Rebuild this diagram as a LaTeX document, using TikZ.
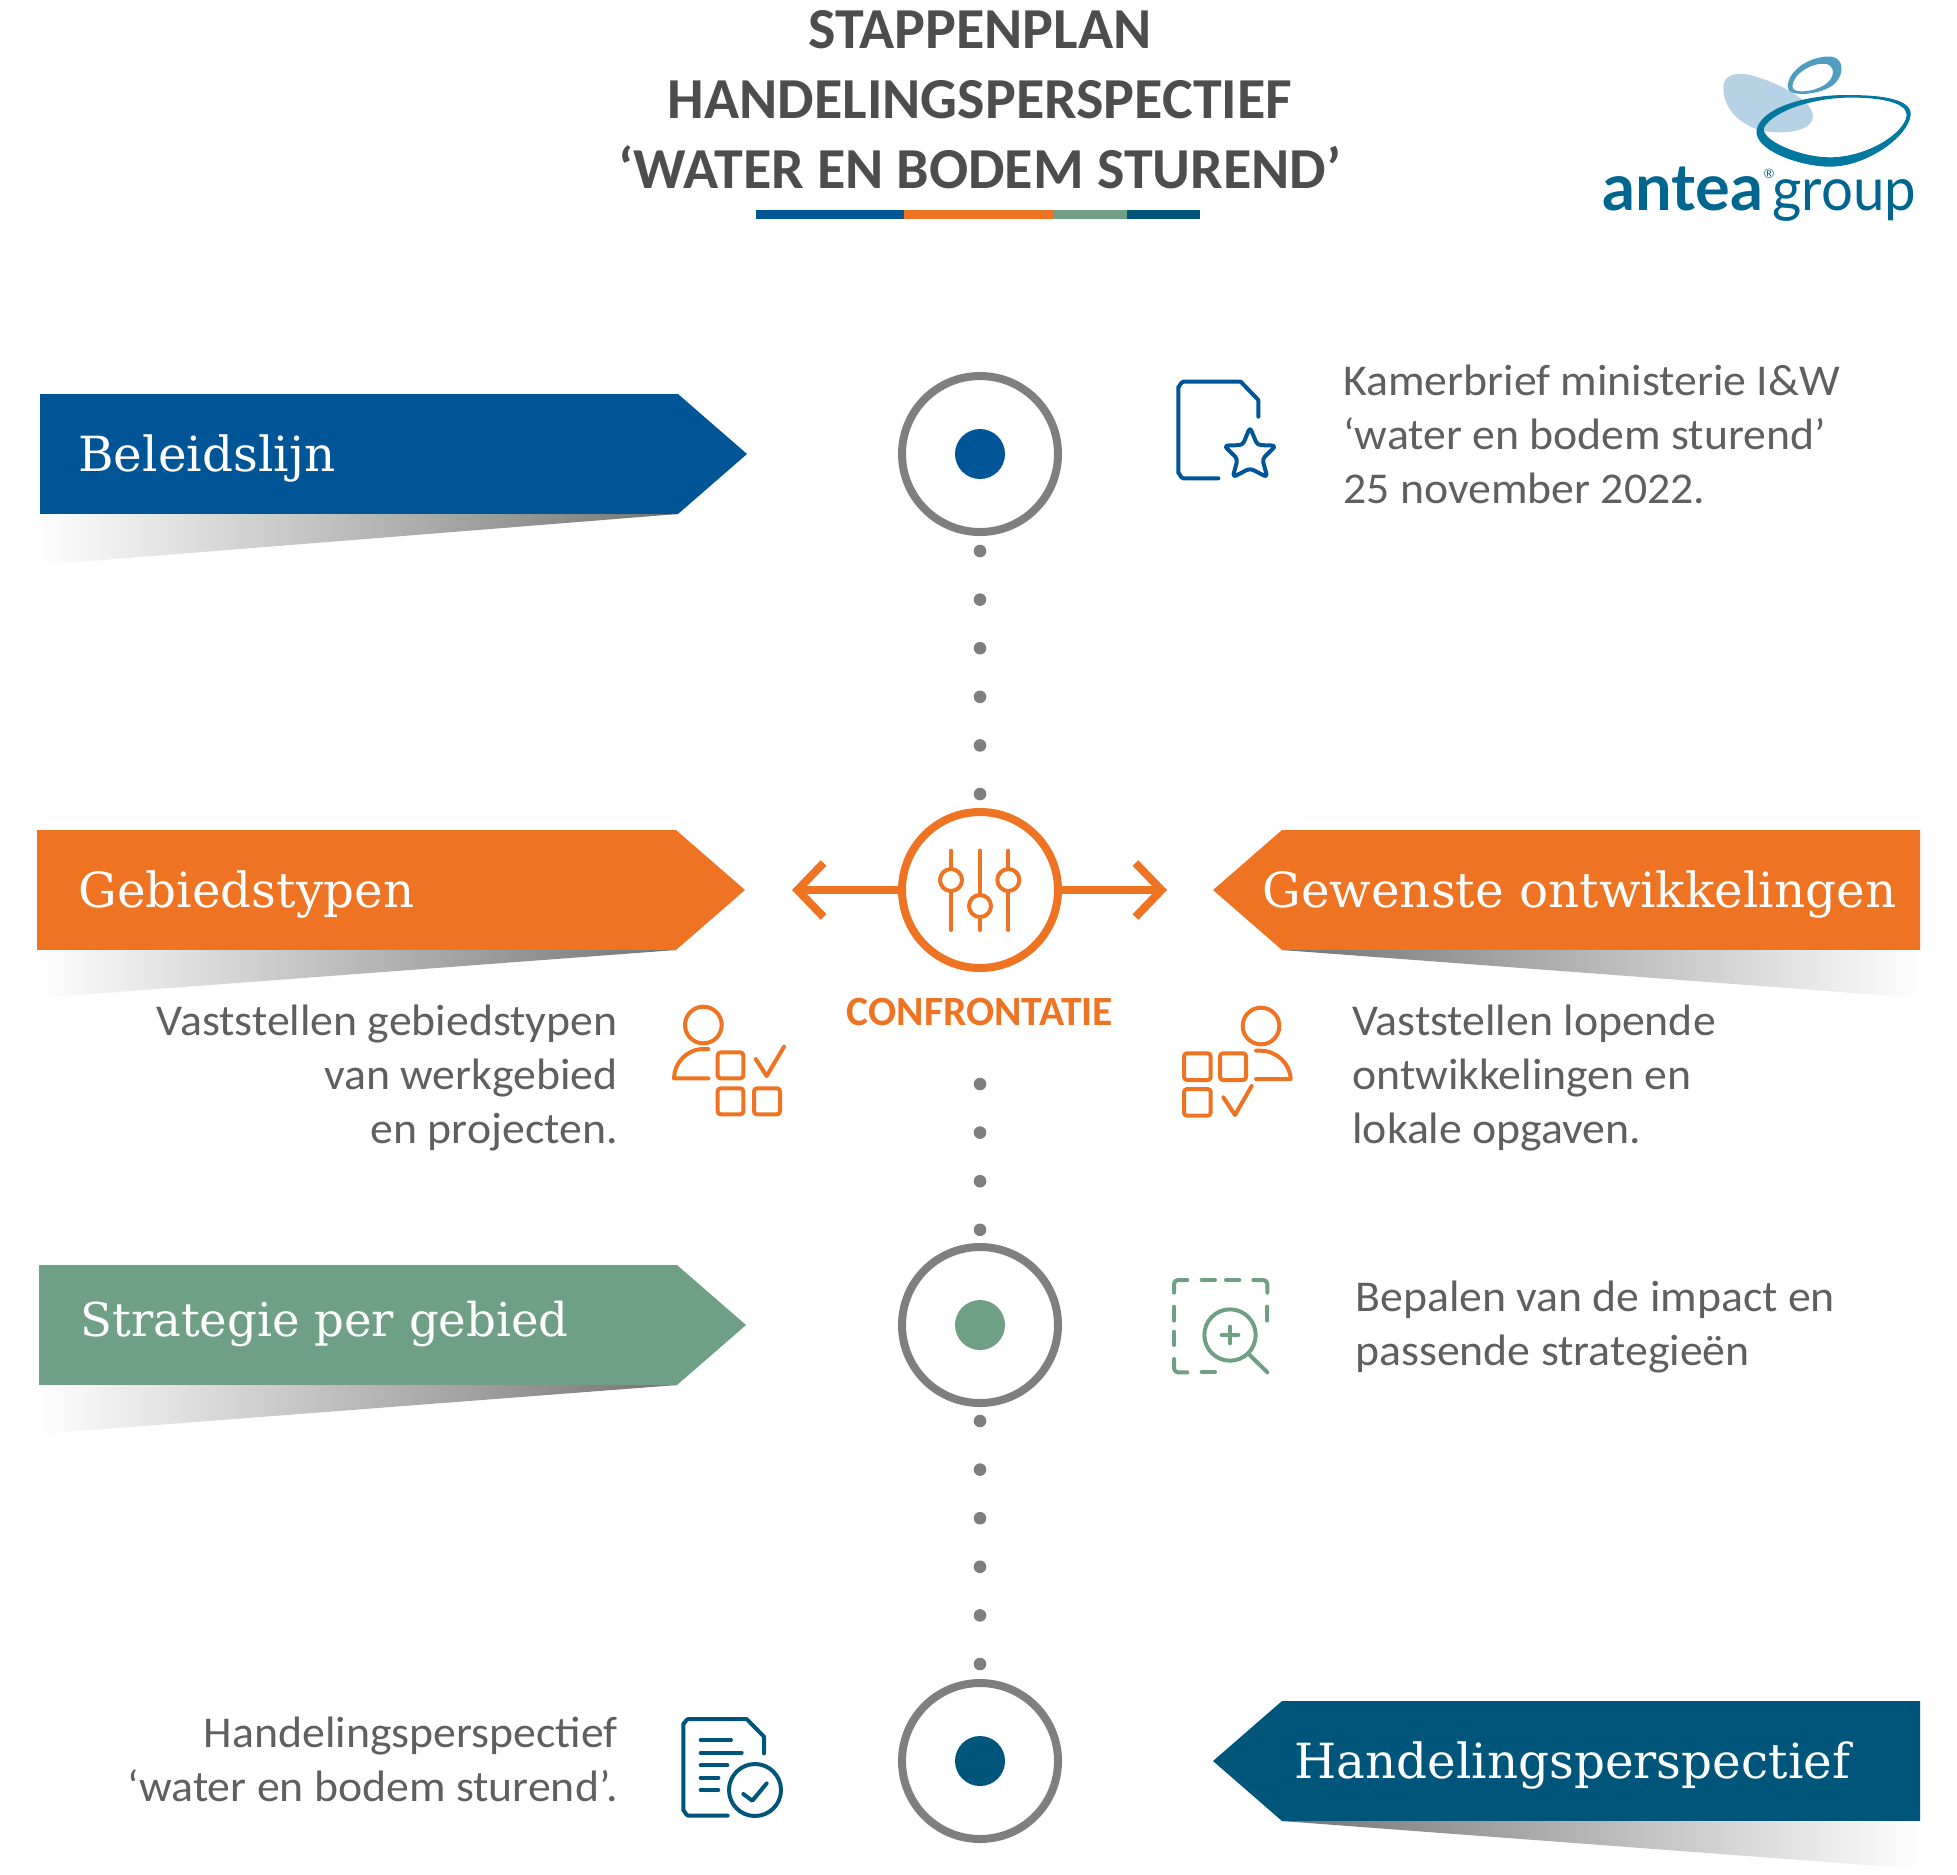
\documentclass[tikz,border=0pt]{standalone}
\usepackage{fontspec}
\setmainfont{Carlito}
\newfontfamily\slabfont{DejaVu Serif}
\newfontfamily\logofont{Lato}
\newfontfamily\logothinfont[FakeStretch=0.94]{Lato}
\newfontfamily\widefont[FakeStretch=1.04]{Carlito}
\usetikzlibrary{arrows.meta}
\definecolor{beleidblue}{HTML}{005596}
\definecolor{gebiedorange}{HTML}{EE7322}
\definecolor{strategiegreen}{HTML}{6FA086}
\definecolor{perspectiefblue}{HTML}{00567A}
\definecolor{stepgrey}{HTML}{7F7F7F}
\definecolor{titlegrey}{HTML}{4D4D4D}
\definecolor{bodygrey}{HTML}{5F5F5F}
\definecolor{logolight}{HTML}{B7D2E5}
\definecolor{logomid}{HTML}{4F9DBF}
\definecolor{logodark}{HTML}{0078A0}
\definecolor{logotext}{HTML}{00668F}
\tikzset{
   stepcircle/.style={circle,draw=stepgrey,line width=4pt,minimum size=78pt,inner sep=0pt},
   stepdot/.style={circle,minimum size=25pt,inner sep=0pt},
   banner/.style={font=\slabfont\fontsize{24.2}{28}\selectfont,text=white,inner sep=0pt},
   bodytext/.style={font=\widefont\fontsize{22}{27}\selectfont,text=bodygrey,inner sep=0pt},
   dotline/.style={stepgrey,line width=6.3pt,line cap=round,dash pattern=on 0pt off 24.3pt},
   shadow/.style={left color=white,middle color=black!17,right color=black!55},
   shadowback/.style={left color=black!55,middle color=black!17,right color=white},
   icon/.style={line width=2pt,line cap=round,line join=round},
   stepline/.style={gebiedorange,line width=4pt,
      -{Straight Barb[length=13pt,width=27pt,line width=4pt]}}
}
\begin{document}
\begin{tikzpicture}[x=.5pt,y=-.5pt]
   \useasboundingbox (0,0) rectangle (1957,1874);

   \node (title) [align=center,text=titlegrey,inner sep=0pt,
      font=\bfseries\fontsize{29}{35}\selectfont] at (980,100)
      {STAPPENPLAN\\HANDELINGSPERSPECTIEF\\‘WATER EN BODEM STUREND’};
   \fill[beleidblue] (756,210) rectangle (903.5,219);
   \fill[gebiedorange] (903.5,210) rectangle (1053,219);
   \fill[strategiegreen] (1053,210) rectangle (1127,219);
   \fill[perspectiefblue] (1127,210) rectangle (1200,219);

   \begin{scope}[shift={(1560,30)},scale=1/3]
      \fill[logolight] (490,170) .. controls (490,135) and (530,125) .. (570,135)
         .. controls (650,155) and (770,215) .. (758,265)
         .. controls (750,310) and (650,315) .. (590,298)
         .. controls (520,270) and (490,225) .. (490,170) -- cycle;
      \fill[logomid,even odd rule] (683,170) .. controls (685,115) and (760,75) .. (815,80)
         .. controls (850,85) and (855,130) .. (825,160)
         .. controls (790,195) and (680,205) .. (683,170) -- cycle
         (697,168) .. controls (700,130) and (760,95) .. (800,102)
         .. controls (825,110) and (825,140) .. (800,160)
         .. controls (770,185) and (695,195) .. (697,168) -- cycle;
      \fill[logodark,even odd rule] (590,300) .. controls (600,240) and (720,195) .. (860,195)
         .. controls (960,195) and (1055,205) .. (1052,255)
         .. controls (1045,320) and (920,410) .. (810,410)
         .. controls (720,410) and (580,360) .. (590,300) -- cycle
         (612,293) .. controls (640,242) and (760,205) .. (860,203)
         .. controls (950,201) and (1040,215) .. (1040,255)
         .. controls (1035,310) and (920,382) .. (810,382)
         .. controls (720,382) and (600,330) .. (612,293) -- cycle;
      \node (antea) [anchor=base west,inner sep=0pt,text=logotext,
         font=\logofont\bfseries\fontsize{32.5}{32}\selectfont] at (125,540) {antea};
      \node (group) [anchor=base west,inner sep=0pt,text=logotext,
         font=\logothinfont\fontsize{30}{30}\selectfont] at (636,540) {group};
      \node (reg) [inner sep=0pt,text=logotext,font=\logofont\fontsize{6.5}{6.5}\selectfont] at (627,432) {®};
   \end{scope}

   \fill[beleidblue] (40,394) -- (678,394) -- (747,454) -- (678,514) -- (40,514) -- cycle;
   \shade[shadow] (40,514) -- (678,514) -- (40,565) -- cycle;
   \fill[gebiedorange] (37,830) -- (676,830) -- (745,890) -- (676,950) -- (37,950) -- cycle;
   \shade[shadow] (37,950) -- (676,950) -- (37,998) -- cycle;
   \fill[gebiedorange] (1920,830) -- (1282,830) -- (1213,890) -- (1282,950) -- (1920,950) -- cycle;
   \shade[shadowback] (1282,950) -- (1920,950) -- (1920,998) -- cycle;
   \fill[strategiegreen] (39,1265) -- (677,1265) -- (746,1325) -- (677,1385) -- (39,1385) -- cycle;
   \shade[shadow] (39,1385) -- (677,1385) -- (39,1434) -- cycle;
   \fill[perspectiefblue] (1920,1701) -- (1282,1701) -- (1213,1761) -- (1282,1821) -- (1920,1821) -- cycle;
   \shade[shadowback] (1282,1821) -- (1920,1821) -- (1920,1869) -- cycle;

   \node (beleidslijn) [banner,anchor=west] at (78,458) {Beleidslijn};
   \node (gebiedstypen) [banner,anchor=west] at (78,894) {Gebiedstypen};
   \node (ontwikkelingen) [banner,anchor=west] at (1262,894) {Gewenste ontwikkelingen};
   \node (strategie) [banner,anchor=west,font=\slabfont\fontsize{23.3}{28}\selectfont] at (80,1324) {Strategie per gebied};
   \node (perspectief) [banner,anchor=west] at (1294,1765) {Handelingsperspectief};

   \node (stapA) [stepcircle] at (980,454) {};
   \node (confront) [stepcircle,draw=gebiedorange,below of=stapA,node distance=218pt] {};
   \node (stapC) [stepcircle,below of=confront,node distance=217.5pt] {};
   \node (stapD) [stepcircle,below of=stapC,node distance=218pt] {};
   \node (dotA) [stepdot,fill=beleidblue] at (stapA) {};
   \node (dotC) [stepdot,fill=strategiegreen] at (stapC) {};
   \node (dotD) [stepdot,fill=perspectiefblue] at (stapD) {};

   \draw[dotline,shorten <=7.5pt] (stapA) -- (confront);
   \draw[dotline,shorten <=56pt] (confront) -- (stapC);
   \draw[dotline,shorten <=7pt] (stapC) -- (stapD);

   \coordinate (gebiedend) at (792,890);
   \coordinate (ontwikkend) at (1167,890);
   \path[stepline]
      (confront) edge (gebiedend)
      (confront) edge (ontwikkend);

   \begin{scope}[shift={(770,780)},scale=1/3,gebiedorange,line width=2pt,line cap=round]
      \draw (543,212) -- (543,450);
      \draw (630,212) -- (630,450);
      \draw (715,212) -- (715,450);
      \filldraw[fill=white] (543,300) circle (33);
      \filldraw[fill=white] (630,378) circle (33);
      \filldraw[fill=white] (715,300) circle (33);
   \end{scope}
   \node (confrontatie) [inner sep=0pt,text=gebiedorange,
      font=\bfseries\fontsize{20.8}{24}\selectfont] at (980,1012) {CONFRONTATIE};

   \node (kamer) [bodytext,align=left,anchor=west] at (1343,434)
      {Kamerbrief ministerie I\&W\\‘water en bodem sturend’\\25 november 2022.};
   \node (gebiedtekst) [bodytext,align=right,anchor=east] at (618,1078)
      {Vaststellen gebiedstypen\\van werkgebied\\en projecten.};
   \node (ontwikkeltekst) [bodytext,align=left,anchor=west] at (1352,1078)
      {Vaststellen lopende\\ontwikkelingen en\\lokale opgaven.};
   \node (bepalen) [bodytext,align=left,anchor=west] at (1355,1327)
      {Bepalen van de impact en\\passende strategieën};
   \node (slot) [bodytext,align=right,anchor=east] at (618,1759)
      {Handelingsperspectief\\‘water en bodem sturend’.};

   \begin{scope}[shift={(1150,350)},scale=1/3,icon,draw=beleidblue]
      \draw (205,385) -- (100,385) to[out=180,in=90] (85,370) -- (85,110)
         to[out=-90,in=180] (100,95) -- (272,95) -- (325,150) -- (325,200);
      \draw[rounded corners=1.8pt] (300,232) -- (322,285) -- (378,287) -- (337,327) -- (352,382)
         -- (300,355) -- (248,382) -- (263,327) -- (222,287) -- (278,285) -- cycle;
   \end{scope}

   \begin{scope}[shift={(650,980)},scale=1/3,icon,draw=gebiedorange]
      \draw (160,135) circle (55);
      \draw (175,207) -- (160,207) .. controls (110,207) and (72,250) .. (72,295) -- (175,295);
      \draw[rounded corners=1.5pt] (203,217) rectangle (280,295);
      \draw[rounded corners=1.5pt] (203,325) rectangle (280,403);
      \draw[rounded corners=1.5pt] (312,325) rectangle (390,403);
      \draw (317,237) -- (350,288) -- (402,200);
   \end{scope}

   \begin{scope}[shift={(1160,980)},scale=1/3,icon,draw=gebiedorange]
      \draw (303,138) circle (55);
      \draw (288,212) -- (300,212) .. controls (350,212) and (390,250) .. (392,297) -- (288,297);
      \draw[rounded corners=1.5pt] (72,220) rectangle (152,300);
      \draw[rounded corners=1.5pt] (180,220) rectangle (258,300);
      \draw[rounded corners=1.5pt] (72,327) rectangle (152,407);
      \draw (190,352) -- (225,405) -- (275,318);
   \end{scope}

   \begin{scope}[shift={(1150,1260)},scale=1/3,icon,draw=strategiegreen]
      \draw[rounded corners=2pt] (72,98) -- (72,60) -- (112,60);
      \draw (155,60) -- (195,60);
      \draw (228,60) -- (268,60);
      \draw[rounded corners=2pt] (310,60) -- (352,60) -- (352,98);
      \draw (352,140) -- (352,182);
      \draw (72,140) -- (72,182);
      \draw (72,215) -- (72,255);
      \draw[rounded corners=2pt] (72,297) -- (72,337) -- (112,337);
      \draw (155,337) -- (195,337);
      \draw (240,225) circle (77);
      \draw (297,283) -- (352,337);
      \draw (215,225) -- (265,225);
      \draw (240,200) -- (240,250);
   \end{scope}

   \begin{scope}[shift={(665,1700)},scale=1/3,icon,draw=perspectiefblue]
      \draw (188,347) -- (70,347) to[out=180,in=90] (55,332) -- (55,70)
         to[out=-90,in=180] (70,57) -- (245,57) -- (297,110) -- (297,160);
      \draw (107,120) -- (198,120);
      \draw (107,158) -- (230,158);
      \draw (107,196) -- (187,196);
      \draw (107,233) -- (160,233);
      \draw (107,270) -- (160,270);
      \draw (270,270) circle (78);
      \draw (235,282) -- (262,302) -- (305,250);
   \end{scope}
\end{tikzpicture}
\end{document}
